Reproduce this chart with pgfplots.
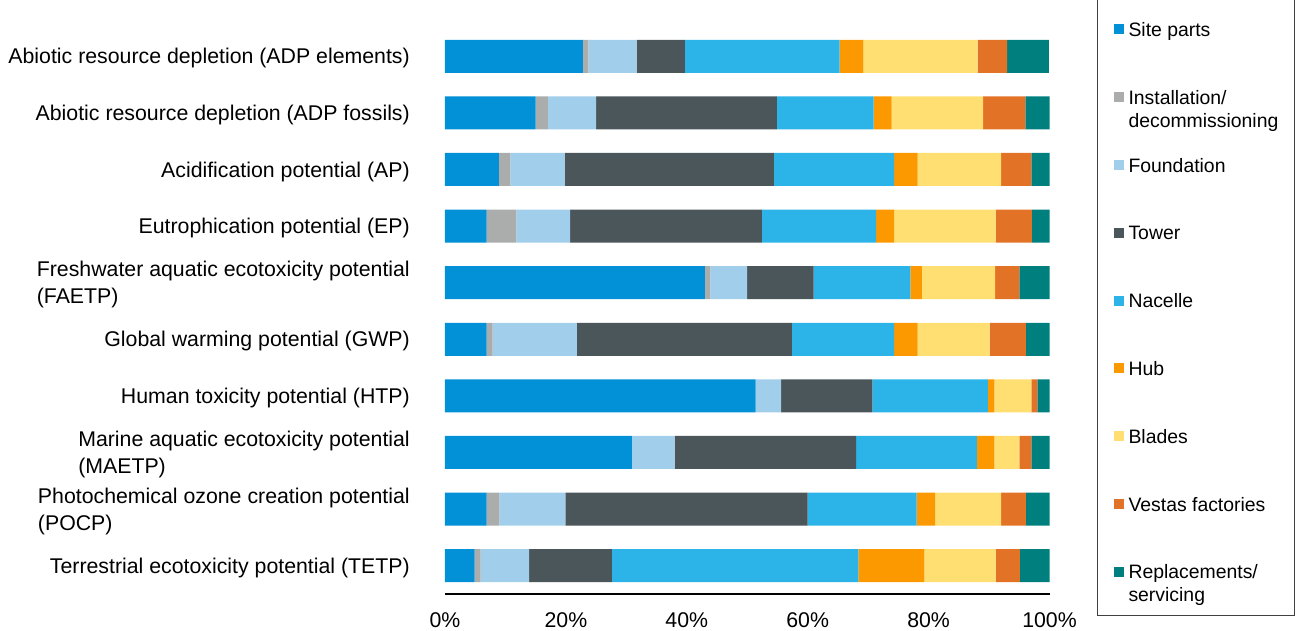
\documentclass[border=0pt]{standalone}
\usepackage{fontspec}
\setmainfont{Liberation Sans}
\usepackage{pgfplots}
\usepackage{pgfplotstable}
\pgfplotsset{compat=1.18}

\definecolor{cSite}{HTML}{0291D6}
\definecolor{cInst}{HTML}{ABACAC}
\definecolor{cFound}{HTML}{A1CFEB}
\definecolor{cTower}{HTML}{4B565B}
\definecolor{cNac}{HTML}{2CB3E8}
\definecolor{cHub}{HTML}{FD9900}
\definecolor{cBlade}{HTML}{FFDF72}
\definecolor{cVest}{HTML}{E27326}
\definecolor{cRepl}{HTML}{007F7F}

% share of each life-cycle stage, % (row 9 = top bar)
\pgfplotstableread{
row site inst found tower nacelle hub blades vestas repl
9 22.8 0.9 8.0 8.0 25.6 3.9 18.9 4.9 6.9
8 15.0 2.0 8.0 29.9 16.0 3.0 15.1 7.0 4.0
7 8.9 1.9 9.0 34.6 19.9 3.9 13.8 5.0 3.0
6 6.9 4.9 8.9 31.7 18.9 3.0 16.8 6.0 2.9
5 43.0 0.9 6.1 11.0 16.0 1.9 12.1 4.0 5.0
4 6.9 1.0 13.9 35.6 16.9 3.9 11.9 6.0 3.9
3 51.4 0.0 4.2 15.1 19.1 1.1 6.1 1.0 2.0
2 30.9 0.0 7.1 30.0 20.0 2.9 4.1 2.0 3.0
1 6.9 2.1 10.9 40.1 18.0 3.1 10.9 4.1 3.9
0 4.9 1.0 8.0 13.7 40.8 10.9 11.8 4.0 4.9
}\data

\newcommand{\two}[2]{\smash{\begin{tabular}[t]{@{}l@{}}#1\\#2\end{tabular}}}

\begin{document}
\begin{tikzpicture}
\useasboundingbox (-445pt,-37pt) rectangle (851pt,594pt);
\begin{axis}[
  at={(0pt,0pt)}, anchor=south west,
  width=604.5pt, height=566pt, scale only axis,
  xbar stacked, bar width=33pt,
  xmin=0, xmax=100, ymin=-0.5, ymax=9.5,
  /pgf/number format/assume math mode=true,
  xtick={0,20,40,60,80,100},
  xticklabel={\pgfmathprintnumber{\tick}\%},
  ytick={0,...,9},
  yticklabels={
    Terrestrial ecotoxicity potential (TETP),
    {Photochemical ozone creation potential\\(POCP)},
    {Marine aquatic ecotoxicity potential\\(MAETP)},
    Human toxicity potential (HTP),
    Global warming potential (GWP),
    {Freshwater aquatic ecotoxicity potential\\(FAETP)},
    Eutrophication potential (EP),
    Acidification potential (AP),
    Abiotic resource depletion (ADP fossils),
    Abiotic resource depletion (ADP elements)},
  tick label style={font=\fontsize{21.3}{27}\selectfont, inner sep=0pt},
  yticklabel style={align=left, xshift=-35pt, yshift=-2pt},
  xticklabel style={yshift=-18.5pt},
  tick style={draw=none},
  axis x line*=bottom, axis y line*=left,
  y axis line style={draw=none},
  x axis line style={black, line width=1.2pt},
  every axis plot post/.append style={draw=none,
    legend image code/.code={\fill[#1] (0pt,-5pt) rectangle (10pt,5pt);}},
  legend cell align=left,
  legend style={at={(1.07858,-0.0395)}, anchor=south west,
    draw=black!75, line width=1pt, fill=white,
    inner xsep=16pt, inner ysep=35pt, row sep=49.8pt, column sep=5pt,
    font=\fontsize{19.4}{23}\selectfont,
    nodes={inner sep=0pt, text height=16pt, text depth=2pt}},
]
\addplot[fill=cSite] table[x=site, y=row] {\data};
\addlegendentry{Site parts}
\addplot[fill=cInst] table[x=inst, y=row] {\data};
\addlegendentry{\two{Installation/}{decommissioning}}
\addplot[fill=cFound] table[x=found, y=row] {\data};
\addlegendentry{Foundation}
\addplot[fill=cTower] table[x=tower, y=row] {\data};
\addlegendentry{Tower}
\addplot[fill=cNac] table[x=nacelle, y=row] {\data};
\addlegendentry{Nacelle}
\addplot[fill=cHub] table[x=hub, y=row] {\data};
\addlegendentry{Hub}
\addplot[fill=cBlade] table[x=blades, y=row] {\data};
\addlegendentry{Blades}
\addplot[fill=cVest] table[x=vestas, y=row] {\data};
\addlegendentry{Vestas factories}
\addplot[fill=cRepl] table[x=repl, y=row] {\data};
\addlegendentry{\two{Replacements/}{servicing}}
\end{axis}
\end{tikzpicture}
\end{document}
